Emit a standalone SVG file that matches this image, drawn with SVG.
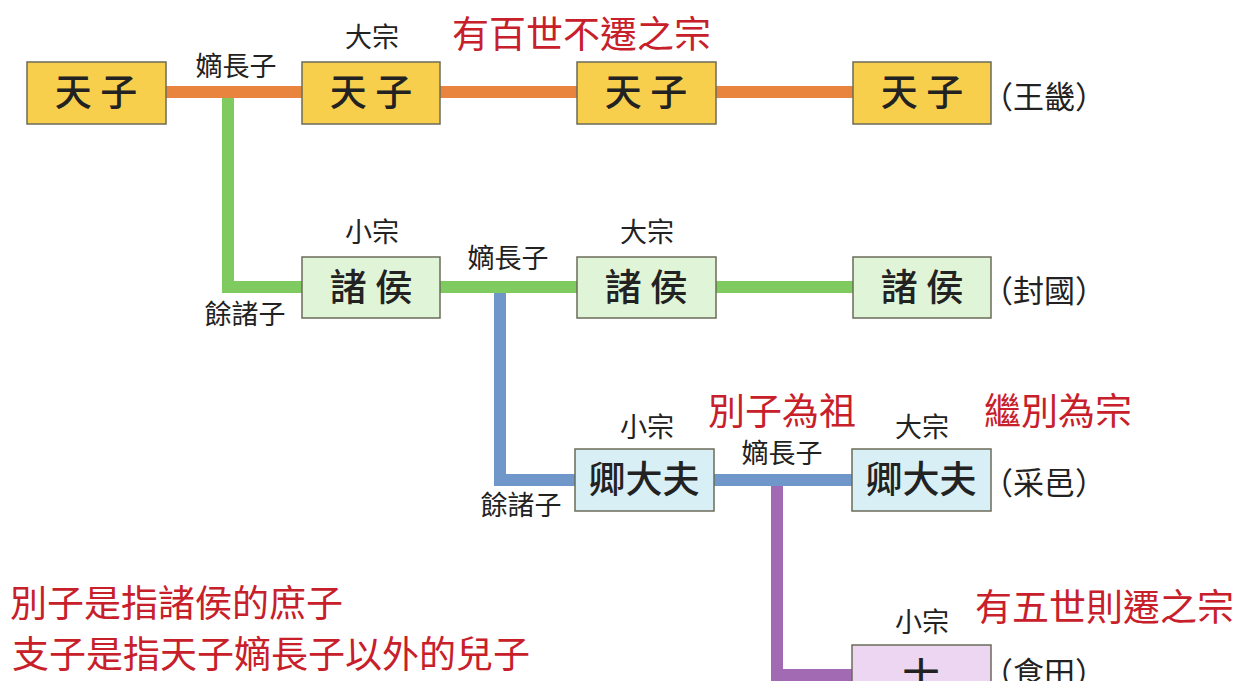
<svg xmlns="http://www.w3.org/2000/svg" width="1248" height="681" viewBox="0 0 1248 681">
<style>
text{font-family:"Noto Sans CJK TC","Noto Sans CJK SC",sans-serif;fill:#222}
.n{font-size:37px;text-anchor:middle;font-weight:500}
.s{font-size:27px;text-anchor:middle}
.r{font-size:37px;fill:#c8202a}
.p{font-size:31px}
.box{stroke:#6b6b5a;stroke-width:1.5}
.y{fill:#f8cf4c}.g{fill:#e0f4d8}.b{fill:#d8eff5}.v{fill:#ecd6f1}
.c{fill:none;stroke-width:12}
</style>
<rect width="1248" height="681" fill="#fff"/>
<g id="connectors">
<path class="c" stroke="#e8843e" d="M166 92H853"/>
<path class="c" stroke="#7fcb5f" d="M228 98V287H302M440 287H853"/>
<path class="c" stroke="#6f97c9" d="M500 293V480H575M714 480H852"/>
<path class="c" stroke="#a26ab3" d="M777 486V675H852"/>
</g>
<g id="n1"><rect class="box y" x="27" y="62" width="139" height="62"/><text class="n" x="96" y="106">天 子</text></g>
<g id="n2"><rect class="box y" x="302" y="62" width="138" height="62"/><text class="n" x="371" y="106">天 子</text></g>
<g id="n3"><rect class="box y" x="577" y="62" width="139" height="62"/><text class="n" x="646" y="106">天 子</text></g>
<g id="n4"><rect class="box y" x="853" y="62" width="138" height="62"/><text class="n" x="922" y="106">天 子</text></g>
<g id="n5"><rect class="box g" x="302" y="257" width="138" height="61"/><text class="n" x="371" y="301">諸 侯</text></g>
<g id="n6"><rect class="box g" x="577" y="257" width="139" height="61"/><text class="n" x="646" y="301">諸 侯</text></g>
<g id="n7"><rect class="box g" x="853" y="257" width="138" height="61"/><text class="n" x="922" y="301">諸 侯</text></g>
<g id="n8"><rect class="box b" x="575" y="449" width="139" height="62"/><text class="n" x="644" y="493">卿大夫</text></g>
<g id="n9"><rect class="box b" x="852" y="449" width="139" height="62"/><text class="n" x="921" y="493">卿大夫</text></g>
<g id="n10"><rect class="box v" x="852" y="645" width="139" height="50"/><text class="n" x="921" y="690">士</text></g>
<g id="labels">
<text class="s" x="236" y="76">嫡長子</text>
<text class="s" x="372" y="47">大宗</text>
<text class="r" x="452" y="48">有百世不遷之宗</text>
<text class="p" x="982" y="108">（王畿）</text>
<text class="s" x="372" y="242">小宗</text>
<text class="s" x="508" y="268">嫡長子</text>
<text class="s" x="647" y="242">大宗</text>
<text class="s" x="245" y="324">餘諸子</text>
<text class="p" x="982" y="302">（封國）</text>
<text class="s" x="647" y="437">小宗</text>
<text class="r" x="708" y="425">別子為祖</text>
<text class="s" x="782" y="463">嫡長子</text>
<text class="s" x="922" y="437">大宗</text>
<text class="r" x="984" y="425">繼別為宗</text>
<text class="s" x="521" y="515">餘諸子</text>
<text class="p" x="982" y="494">（采邑）</text>
<text class="s" x="922" y="632">小宗</text>
<text class="r" x="975" y="621">有五世則遷之宗</text>
<text class="p" x="982" y="684">（食田）</text>
<text class="r" x="10" y="617">別子是指諸侯的庶子</text>
<text class="r" x="12" y="668">支子是指天子嫡長子以外的兒子</text>
</g>
</svg>
